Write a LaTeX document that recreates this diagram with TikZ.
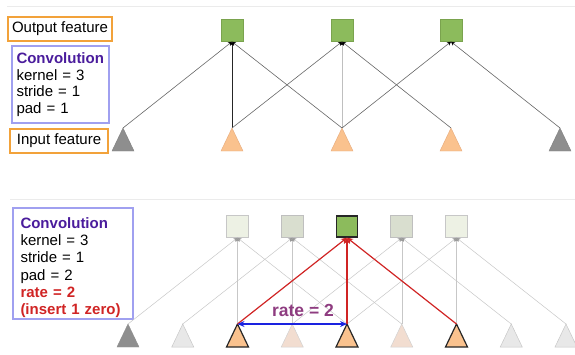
\documentclass[tikz,border=0pt]{standalone}
\usepackage{fontspec}
\setmainfont{Liberation Sans}
\usetikzlibrary{arrows.meta}
\definecolor{sqgreen}{HTML}{8CBB5C}
\definecolor{sqgreenb}{HTML}{7AA34E}
\definecolor{triorange}{HTML}{FAC28E}
\definecolor{triorangeb}{HTML}{E6AA7C}
\definecolor{trigray}{HTML}{8E8E8E}
\definecolor{boxorange}{HTML}{F2A23A}
\definecolor{boxblue}{HTML}{A0A0F0}
\definecolor{convpurple}{HTML}{4A1C9C}
\definecolor{ratered}{HTML}{D02424}
\definecolor{ratepurple}{HTML}{8E3C80}
\definecolor{lightsqA}{HTML}{EDF1E4}
\definecolor{lightsqB}{HTML}{D9DECF}
\definecolor{lighttri}{HTML}{E8E8E8}
\definecolor{pinktri}{HTML}{F2DDD0}
\definecolor{arrblue}{HTML}{1A22E0}
\newcommand\mytri[4]{\coordinate (#1) at (#2,#3-23);
  \draw[#4] (#2-11,#3) -- (#1) -- (#2+11,#3) -- cycle;}
\begin{document}
\begin{tikzpicture}[x=1pt,y=-1pt,
  lbl/.style={draw=boxorange,line width=1.8pt,inner sep=0pt,font=\fontsize{15}{16.5}\selectfont},
  convbox/.style={draw=boxblue,line width=1.8pt,inner xsep=4.5pt,inner ysep=0pt,align=left,font=\fontsize{15}{16.5}\selectfont},
  sqtop/.style={draw=sqgreenb,fill=sqgreen,line width=0.4pt,minimum size=22pt,inner sep=0pt},
  sqA/.style={draw=black!22,fill=lightsqA,line width=0.6pt,minimum size=22pt,inner sep=0pt},
  sqB/.style={draw=black!25,fill=lightsqB,line width=0.6pt,minimum size=22pt,inner sep=0pt},
  sqhi/.style={draw=black!85,fill=sqgreen,line width=1.4pt,minimum size=21pt,inner sep=0pt},
  tgray/.style={fill=trigray,draw=trigray!90!black,line width=0.4pt},
  torange/.style={fill=triorange,draw=triorangeb,line width=0.4pt},
  tobold/.style={fill=triorange,draw=black!85,line width=1.2pt,line join=miter},
  tlight/.style={fill=lighttri,draw=black!22,line width=0.5pt},
  tpink/.style={fill=pinktri,draw=black!18,line width=0.5pt},
  edge/.style={draw=black!60,line width=0.6pt,-{Stealth[length=4pt,width=4pt,black]}},
  edgedark/.style={draw=black!85,line width=0.6pt,-{Stealth[length=4pt,width=4pt,black]}},
  edgelight/.style={draw=black!25,line width=0.5pt,-{Stealth[length=4pt,width=4pt,black]}},
  ledge/.style={draw=black!22,line width=0.5pt,-{Stealth[length=4pt,width=4pt,black!40]}},
  redge/.style={draw=ratered,line width=1.2pt,-{Stealth[length=6pt,width=6pt]}},
  sep/.style={draw=black!8,line width=0.8pt}]
\useasboundingbox (0,0) rectangle (575,354);

% separators
\coordinate (sepA) at (7,6); \coordinate (sepB) at (575,6);
\draw[sep] (sepA) -- (sepB);
\coordinate (sepC) at (10,199); \coordinate (sepD) at (575,199);
\draw[sep] (sepC) -- (sepD);

% ---------- top panel ----------
\node[lbl,minimum width=104pt,minimum height=24pt] (outlbl) at (60,29) {Output feature};
\node[convbox,text width=88pt,minimum height=77pt] (conv1) at (60.5,84.5)
  {\textbf{\textcolor{convpurple}{Convolution}}\\kernel = 3\\stride = 1\\pad = 1};
\node[lbl,minimum width=98pt,minimum height=24pt] (inlbl) at (59,141) {Input feature};

\node[sqtop] (s1) at (232,30.5) {};
\node[sqtop] (s2) at (342,30.5) {};
\node[sqtop] (s3) at (451,30.5) {};

\mytri{a0}{123}{151}{tgray}
\mytri{a1}{232}{151}{torange}
\mytri{a2}{342}{151}{torange}
\mytri{a3}{451}{151}{torange}
\mytri{a4}{560}{151}{tgray}

\draw[edge] (a0) -- (s1.south);
\draw[edgedark] (a1) -- (s1.south);
\draw[edge] (a2) -- (s1.south);
\draw[edge] (a1) -- (s2.south);
\draw[edgelight] (a2) -- (s2.south);
\draw[edge] (a3) -- (s2.south);
\draw[edge] (a2) -- (s3.south);
\draw[edge] (a4) -- (s3.south);

% ---------- bottom panel ----------
\node[convbox,inner xsep=7.5pt,text width=105pt,minimum height=111pt,font=\fontsize{15}{17.2}\selectfont] (conv2) at (73,263.5)
  {\vphantom{Ag}\\[-8.6pt]\textbf{\textcolor{convpurple}{Convolution}}\\kernel = 3\\stride = 1\\pad = 2\\
   \textbf{\textcolor{ratered}{rate = 2}}\\\textbf{\textcolor{ratered}{(insert 1 zero)}}};

\node[sqA] (q2) at (237.5,226.5) {};
\node[sqB] (q3) at (292.25,226.5) {};
\node[sqB] (q5) at (401.75,226.5) {};
\node[sqA] (q6) at (456.5,226.5) {};

\mytri{b0}{128}{347}{fill=trigray,draw=trigray,line width=0.4pt}
\mytri{b1}{182.75}{347}{tlight}
\mytri{b3}{292.25}{347}{tpink}
\mytri{b5}{401.75}{347}{tpink}
\mytri{b7}{511.25}{347}{tlight}
\mytri{b8}{566}{347}{tlight}

\draw[ledge] (b0) -- (q2.south);
\draw[ledge] (b1) -- (q3.south);
\draw[ledge] (b3) -- (q3.south);
\draw[ledge] (b3) -- (q5.south);
\draw[ledge] (b5) -- (q5.south);
\draw[ledge] (b5) -- (q3.south);
\draw[ledge] (b7) -- (q5.south);
\draw[ledge] (b8) -- (q6.south);

\mytri{b2}{237.5}{347}{tobold}
\mytri{b4}{347}{347}{tobold}
\mytri{b6}{456.5}{347}{tobold}
\draw[ledge] (b2) -- (q2.south);
\draw[ledge] (b4) -- (q2.south);
\draw[ledge] (b4) -- (q6.south);
\draw[ledge] (b6) -- (q6.south);

\node[sqhi] (q4) at (347,226.5) {};
\draw[redge] (b2) -- (q4.south);
\draw[redge] (b4) -- (q4.south);
\draw[redge] (b6) -- (q4.south);

\draw[draw=arrblue,line width=1.3pt,{Stealth[length=7pt,width=6pt]}-{Stealth[length=7pt,width=6pt]}] (b2) -- (b4);
\node[font=\fontsize{17.5}{20}\selectfont\bfseries,text=ratepurple,inner sep=0pt] (ratelbl) at (303,310) {rate = 2};
\end{tikzpicture}
\end{document}
